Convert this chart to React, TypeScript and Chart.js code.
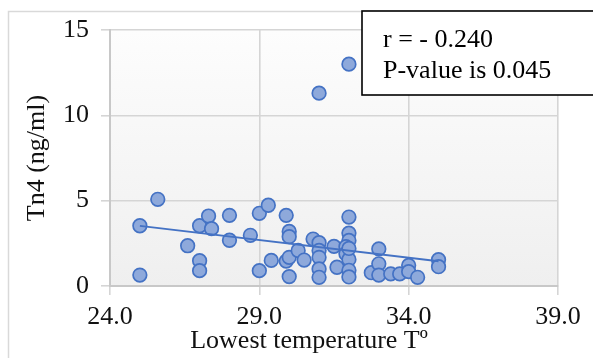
import React, { useEffect, useRef } from "react";
import { Chart, registerables } from "chart.js";

Chart.register(...registerables);

const pointX = [
  25.0, 25.0, 25.6, 26.6, 27.0, 27.0, 27.0, 27.3, 27.4, 28.0, 28.0, 28.7, 29.0, 29.0,
  29.3, 29.4, 29.9, 30.0, 30.0, 29.9, 30.0, 30.0, 30.3, 30.5, 30.8, 31.0, 31.0, 31.0,
  31.0, 31.0, 31.5, 31.6, 32.0, 32.0, 32.0, 31.9, 31.9, 32.0, 32.0, 32.0, 32.0, 32.75,
  33.0, 33.0, 33.0, 33.4, 33.7, 34.0, 34.0, 34.3, 35.0, 35.0, 31.0, 32.0,
];
const pointY = [
  3.53, 0.64, 5.08, 2.36, 3.53, 1.48, 0.9, 4.1, 3.36, 4.14, 2.68, 2.97, 4.26, 0.9,
  4.73, 1.5, 4.14, 3.2, 2.89, 1.46, 1.68, 0.55, 2.08, 1.52, 2.75, 2.54, 2.08, 1.68,
  1.0, 0.51, 2.32, 1.1, 4.04, 3.1, 2.67, 2.3, 1.89, 1.56, 0.92, 0.53, 2.2, 0.78,
  2.17, 1.3, 0.64, 0.71, 0.71, 1.21, 0.84, 0.51, 1.54, 1.13, 11.3, 13.0,
];
const trendX = [25.0, 35.0];
const trendY = [3.52, 1.45];
const xTicks = [24, 29, 34, 39];
const yTicks = [0, 5, 10, 15];
const xTitle = "Lowest temperature Tº";
const yTitle = "Tn4 (ng/ml)";
const noteLines = ["r = - 0.240", "P-value is 0.045"];

const FONT = '"Liberation Serif", "Times New Roman", serif';

export default function App() {
  const ref = useRef<HTMLCanvasElement>(null);
  useEffect(() => {
    document.body.style.margin = "0";
    const canvas = ref.current!;
    const bgPlugin = {
      id: "bg",
      beforeDraw(chart: any) {
        const { ctx, chartArea: a } = chart;
        ctx.save();
        ctx.strokeStyle = "#D9D9D9";
        ctx.lineWidth = 1.5;
        ctx.strokeRect(8.5, 11.5, 800, 600);
        const g = ctx.createLinearGradient(0, a.top, 0, a.bottom);
        g.addColorStop(0, "#FDFDFD");
        g.addColorStop(1, "#EFEFEF");
        ctx.fillStyle = g;
        ctx.fillRect(a.left, a.top, a.right - a.left, a.bottom - a.top);
        ctx.restore();
      },
      afterDraw(chart: any) {
        const { ctx } = chart;
        ctx.save();
        ctx.fillStyle = "#111";
        ctx.font = `26px ${FONT}`;
        ctx.textBaseline = "middle";
        ctx.textAlign = "center";
        ctx.fillText(xTitle, 309, 341);
        ctx.fillStyle = "#FFFFFF";
        ctx.fillRect(362, 11, 300, 84);
        ctx.strokeStyle = "#000000";
        ctx.lineWidth = 1.6;
        ctx.strokeRect(362, 11, 300, 84);
        ctx.fillStyle = "#000000";
        ctx.textAlign = "left";
        noteLines.forEach((t, i) => ctx.fillText(t, 383, 40 + i * 31));
        ctx.restore();
      },
    };
    const chart = new Chart(canvas, {
      type: "scatter",
      data: {
        datasets: [
          {
            type: "line",
            data: trendX.map((x, i) => ({ x, y: trendY[i] })),
            borderColor: "#4472C4",
            borderWidth: 1.8,
            pointRadius: 0,
            fill: false,
          } as any,
          {
            data: pointX.map((x, i) => ({ x, y: pointY[i] })),
            backgroundColor: "#8EA9DB",
            borderColor: "#4472C4",
            borderWidth: 1.7,
            pointRadius: 6.8,
          },
        ],
      },
      options: {
        responsive: false,
        animation: false,
        devicePixelRatio: 1,
        layout: { padding: { left: 0, top: 30, right: 35, bottom: 0 } },
        plugins: { legend: { display: false }, tooltip: { enabled: false } },
        scales: {
          x: {
            type: "linear",
            min: 24,
            max: 39,
            afterBuildTicks: (s: any) => {
              s.ticks = xTicks.map((v) => ({ value: v }));
            },
            afterFit: (s: any) => {
              s.height = 72;
            },
            ticks: {
              color: "#111",
              font: { family: FONT, size: 26 },
              padding: 7,
              maxRotation: 0,
              callback: (v: any) => Number(v).toFixed(1),
            },
            grid: { color: "#D5D5D5", lineWidth: 1.6, tickLength: 9 },
            border: { color: "#C8C8C8", width: 2 },
          },
          y: {
            type: "linear",
            min: 0,
            max: 15,
            afterBuildTicks: (s: any) => {
              s.ticks = yTicks.map((v) => ({ value: v }));
            },
            afterFit: (s: any) => {
              s.width = 110;
            },
            ticks: {
              color: "#111",
              font: { family: FONT, size: 26 },
              padding: 12,
            },
            grid: { color: "#D5D5D5", lineWidth: 1.6, tickLength: 9 },
            border: { color: "#C8C8C8", width: 2 },
            title: {
              display: true,
              text: yTitle,
              color: "#111",
              font: { family: FONT, size: 26 },
              padding: { top: 22, bottom: 0 },
            },
          },
        },
      },
      plugins: [bgPlugin],
    });
    return () => chart.destroy();
  }, []);
  return (
    <canvas
      ref={ref}
      width={593}
      height={358}
      style={{ display: "block", position: "absolute", left: 0, top: 0 }}
    />
  );
}
